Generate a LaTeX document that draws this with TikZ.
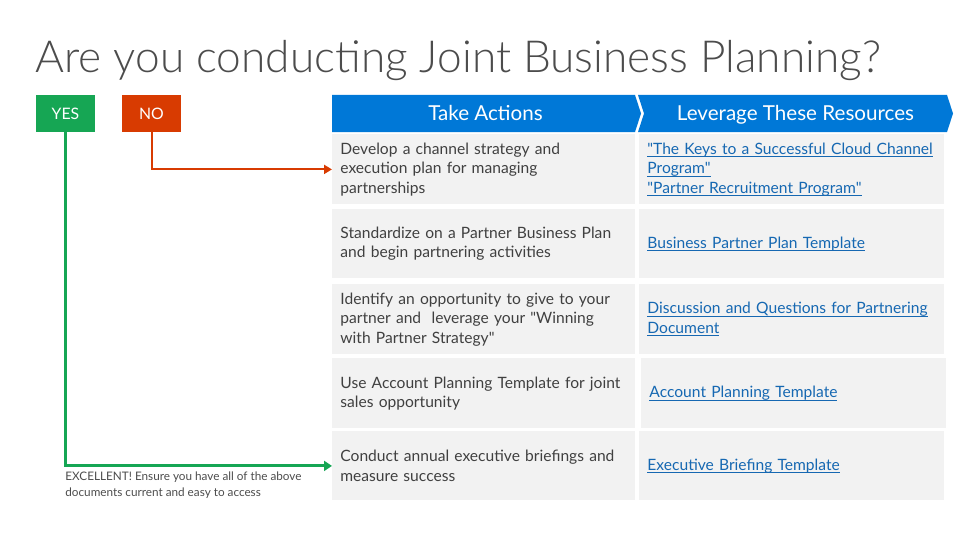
\documentclass[tikz,border=0pt]{standalone}
\usepackage{fontspec}
\setmainfont{Lato}[Ligatures=TeXOff]
\newfontfamily\lightfont{Lato Light}
\usepackage{tikz}
\usetikzlibrary{calc,positioning,arrows.meta}
\usepackage{xcolor}
\definecolor{yesgreen}{RGB}{22,166,84}
\definecolor{nored}{RGB}{216,59,1}
\definecolor{headblue}{RGB}{0,120,215}
\definecolor{cellgrey}{RGB}{242,242,242}
\definecolor{bodytext}{RGB}{64,64,64}
\definecolor{linkblue}{RGB}{22,104,178}
\newsavebox{\lnkbox}
\newcommand{\lnk}[1]{\leavevmode\sbox{\lnkbox}{#1}\rlap{\rule[-1.4pt]{\wd\lnkbox}{0.5pt}}\usebox{\lnkbox}}

\begin{document}
\begin{tikzpicture}[x=0.5pt,y=-0.5pt,
  yesno/.style={minimum width=29.5pt,minimum height=18.5pt,inner sep=0pt,text=white,font=\fontsize{7.9}{9}\selectfont},
  head/.style={anchor=base,text=white,font=\fontsize{10.3}{12}\selectfont},
  cell/.style={anchor=north west,fill=cellgrey,inner xsep=4pt,inner ysep=0pt,align=left,font=\fontsize{7.8}{9.75}\selectfont},
  actcell/.style={cell,text=bodytext,text width=143.5pt},
  rescell/.style={cell,text=linkblue,text width=144.5pt},
  yesline/.style={draw=yesgreen,line width=1.5pt,-{Triangle[length=4pt,width=5pt]}},
  noline/.style={draw=nored,line width=1pt,-{Triangle[length=4pt,width=4.5pt]}}]
  \useasboundingbox (0,0) rectangle (979,551);
  \node[anchor=base west,inner sep=0pt,text=black!70,font=\lightfont\fontsize{22.1}{26}\selectfont] (title) at (35,73) {Are you conducting Joint Business Planning?};
  \node[yesno,fill=yesgreen] (yes) at (65.5,113.5) {YES};
  \node[yesno,fill=nored] (no) at (151.5,113.5) {NO};
  % header chevrons
  \fill[headblue] (332,95) -- (635,95) -- (641,113.5) -- (635,132) -- (332,132) -- cycle;
  \fill[headblue] (638,95) -- (947,95) -- (953,113.5) -- (947,132) -- (638,132) -- (644,113.5) -- cycle;
  \node[head] (acthead) at (485.5,120) {Take Actions};
  \node[head] (reshead) at (795.5,120) {Leverage These Resources};
  % rows
  \node[actcell,minimum height=35pt] (act1) at (332,134) {Develop a channel strategy and\\execution plan for managing\\partnerships};
  \node[rescell,minimum height=35pt] (res1) at (639,134) {\lnk{"The Keys to a Successful Cloud Channel}\\\lnk{Program"}\\\lnk{"Partner Recruitment Program"}};
  \node[actcell,minimum height=34.5pt] (act2) at (332,209) {Standardize on a Partner Business Plan\\and begin partnering activities};
  \node[rescell,minimum height=34.5pt] (res2) at (639,209) {\lnk{Business Partner Plan Template}};
  \node[actcell,minimum height=35pt] (act3) at (332,284) {Identify an opportunity to give to your\\partner and\ \ leverage your "Winning\\with Partner Strategy"};
  \node[rescell,minimum height=35pt] (res3) at (639,284) {\lnk{Discussion and Questions for Partnering}\\\lnk{Document}};
  \node[actcell,minimum height=35pt] (act4) at (332,358) {Use Account Planning Template for joint\\sales opportunity};
  \node[rescell,minimum height=35pt] (res4) at (641,358) {\lnk{Account Planning Template}};
  \node[actcell,minimum height=34.5pt] (act5) at (332,431) {Conduct annual executive briefings and\\measure success};
  \node[rescell,minimum height=34.5pt] (res5) at (639,431) {\lnk{Executive Briefing Template}};
  % connectors
  \draw[noline] (no.south) |- (act1.west);
  \draw[yesline] (yes.south) |- (act5.west);
  \node[anchor=west,align=left,inner sep=0pt,text=black!70,font=\fontsize{5.87}{8}\selectfont] (note) at (65,485) {EXCELLENT! Ensure you have all of the above\\documents current and easy to access};
\end{tikzpicture}
\end{document}
